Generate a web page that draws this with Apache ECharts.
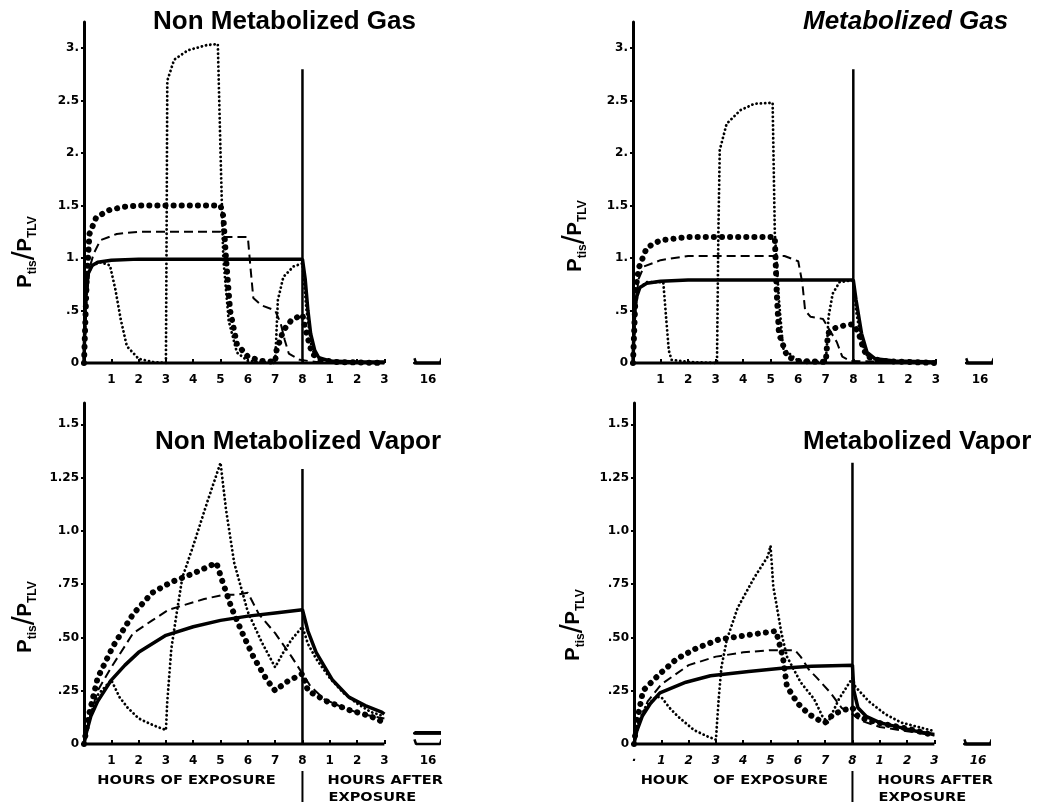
<!DOCTYPE html>
<html><head><meta charset="utf-8">
<script src="https://cdn.jsdelivr.net/npm/echarts@6/dist/echarts.min.js"></script>
<style>html,body{margin:0;padding:0;background:#fff}#c{width:1041px;height:806px}</style>
</head><body><div id="c"></div>
<script>
// ---------- DATA ----------
const panelTitles = ['Non Metabolized Gas', 'Metabolized Gas', 'Non Metabolized Vapor', 'Metabolized Vapor'];
const xTickPos = [1, 2, 3, 4, 5, 6, 7, 8, 9, 10, 11, 12.6];
const xTickLabels = ['1', '2', '3', '4', '5', '6', '7', '8', '1', '2', '3', '16'];
const mVapXTickPos = [0, 1, 2, 3, 4, 5, 6, 7, 8, 9, 10, 11, 12.6];
const mVapXTickLabels = ['·', '1', '2', '3', '4', '5', '6', '7', '8', '1', '2', '3', '16'];
const gasYTicks = [0, 0.5, 1, 1.5, 2, 2.5, 3];
const gasYLabels = ['0', '.5', '1.', '1.5', '2.', '2.5', '3.'];
const vapYTicks = [0, 0.25, 0.5, 0.75, 1, 1.25, 1.5];
const vapYLabels = ['0', '.25', '.50', '.75', '1.0', '1.25', '1.5'];
const yMax = [3.25, 3.25, 1.6, 1.6];
const dividerTop = [2.8, 2.8, 1.29, 1.32];
const exposureEnd = 8;
const afterEnd = 11;
const at16Span = [12.1, 13.1];

// Non Metabolized Gas
const nmGasConst = [[0,0],[0.05,0.6],[0.15,0.85],[0.3,0.93],[0.5,0.96],[1,0.98],[2,0.99],[8,0.99],[8.1,0.8],[8.2,0.5],[8.3,0.28],[8.45,0.12],[8.6,0.05],[9,0.02],[10,0.01],[11,0.01]];
const nmGasDashed = [[0,0],[0.1,0.6],[0.2,0.9],[0.35,1.04],[0.6,1.17],[1.2,1.23],[2,1.25],[5,1.25],[5.15,1.2],[6.0,1.2],[6.1,0.9],[6.2,0.62],[6.5,0.55],[7.0,0.5],[7.2,0.38],[7.35,0.22],[7.5,0.09],[7.9,0.03],[8.5,0.01],[11,0]];
const nmGasBigDots = [[0,0],[0.1,0.8],[0.2,1.23],[0.45,1.39],[0.95,1.46],[1.5,1.49],[2,1.5],[5,1.5],[5.1,1.4],[5.2,1.0],[5.35,0.5],[5.6,0.18],[6.0,0.06],[6.5,0.02],[7,0.01],[7.05,0.12],[7.3,0.31],[7.6,0.41],[8.0,0.46],[8.15,0.28],[8.35,0.09],[8.65,0.03],[9.2,0.01],[11,0]];
const nmGasSmallDots = [[0,0],[0.05,0.5],[0.15,0.85],[0.3,0.93],[0.6,0.96],[0.95,0.93],[1.15,0.7],[1.35,0.41],[1.57,0.16],[2,0.04],[2.5,0.01],[3.0,0],[3.03,1.5],[3.05,2.69],[3.3,2.89],[3.8,2.98],[4.5,3.03],[4.9,3.04],[5.0,2.0],[5.1,1.0],[5.3,0.4],[5.6,0.1],[6,0.02],[7,0],[7.1,0.6],[7.3,0.82],[7.67,0.92],[8.0,0.95],[8.15,0.5],[8.35,0.12],[8.7,0.03],[9.5,0.01],[11,0]];
const nmGas16 = [0, 0, 0, 0];

// Metabolized Gas
const mGasConst = [[0,0],[0.05,0.45],[0.12,0.62],[0.25,0.72],[0.5,0.76],[1,0.78],[2,0.79],[8,0.79],[8.1,0.6],[8.3,0.28],[8.5,0.1],[8.8,0.04],[9.5,0.02],[11,0.01]];
const mGasDashed = [[0,0],[0.1,0.55],[0.2,0.8],[0.4,0.92],[1,0.98],[2,1.02],[5.5,1.02],[6.0,0.97],[6.15,0.76],[6.25,0.5],[6.45,0.44],[6.9,0.42],[7.1,0.33],[7.4,0.2],[7.6,0.06],[7.9,0.02],[11,0]];
const mGasBigDots = [[0,0],[0.1,0.7],[0.2,0.9],[0.5,1.1],[1,1.17],[2,1.2],[5.15,1.2],[5.22,0.66],[5.3,0.28],[5.6,0.06],[6.0,0.02],[7.0,0.01],[7.08,0.28],[7.3,0.33],[7.7,0.36],[8.0,0.37],[8.2,0.28],[8.35,0.15],[8.5,0.06],[9,0.02],[11,0]];
const mGasSmallDots = [[0,0],[0.05,0.4],[0.15,0.7],[0.5,0.77],[1.1,0.77],[1.2,0.44],[1.3,0.12],[1.4,0.03],[2,0.01],[3.05,0],[3.1,1.24],[3.15,2.03],[3.4,2.28],[3.9,2.41],[4.4,2.47],[5.07,2.48],[5.15,1.24],[5.3,0.6],[5.45,0.14],[6,0.02],[7.0,0.01],[7.05,0.2],[7.1,0.44],[7.25,0.66],[7.5,0.77],[8.0,0.79],[8.1,0.5],[8.3,0.2],[8.5,0.07],[9,0.02],[11,0]];
const mGas16 = [0, 0, 0, 0];

// Non Metabolized Vapor
const nmVapConst = [[0,0],[0.1,0.06],[0.25,0.13],[0.5,0.2],[1,0.3],[1.5,0.37],[2,0.43],[3,0.51],[4,0.55],[5,0.58],[6,0.6],[7,0.615],[8,0.63],[8.2,0.53],[8.5,0.43],[9.1,0.3],[9.7,0.22],[10.3,0.18],[10.9,0.15],[11,0.14]];
const nmVapDashed = [[0,0],[0.2,0.12],[0.5,0.25],[1,0.36],[1.8,0.52],[2.5,0.58],[3.1,0.63],[4.4,0.68],[5.1,0.7],[5.6,0.7],[6.0,0.71],[6.4,0.61],[7.0,0.52],[7.6,0.41],[8.0,0.33],[8.3,0.27],[8.8,0.21],[9.5,0.17],[10.2,0.14],[11,0.12]];
const nmVapBigDots = [[0,0],[0.15,0.12],[0.5,0.31],[1.07,0.46],[1.8,0.61],[2.5,0.71],[3.2,0.76],[4.0,0.8],[4.85,0.85],[5.05,0.77],[5.4,0.64],[5.8,0.52],[6.2,0.41],[6.7,0.3],[7.0,0.25],[7.4,0.29],[8.0,0.33],[8.2,0.25],[8.9,0.2],[9.7,0.16],[10.5,0.13],[11,0.1]];
const nmVapSmallDots = [[0,0],[0.15,0.1],[0.5,0.23],[1.0,0.3],[1.3,0.22],[1.6,0.17],[2,0.12],[2.5,0.09],[3.0,0.065],[3.05,0.2],[3.2,0.45],[3.4,0.62],[3.6,0.78],[4,0.93],[4.5,1.13],[5,1.32],[5.2,1.1],[5.5,0.85],[6,0.62],[6.5,0.48],[7,0.36],[7.3,0.43],[7.6,0.49],[8,0.55],[8.2,0.47],[8.5,0.4],[9,0.31],[9.5,0.24],[10,0.19],[10.5,0.15],[11,0.13]];
const nmVap16 = [0.055, 0.05, 0.05, 0.05];

// Metabolized Vapor
const mVapConst = [[0,0],[0.1,0.06],[0.3,0.13],[0.6,0.19],[0.95,0.24],[1.9,0.29],[2.8,0.32],[4.2,0.34],[5.4,0.355],[6.5,0.365],[8,0.37],[8.05,0.25],[8.2,0.17],[8.5,0.13],[9,0.1],[9.5,0.085],[10,0.07],[10.5,0.055],[11,0.045]];
const mVapDashed = [[0,0],[0.2,0.1],[0.5,0.2],[1,0.28],[2,0.37],[3,0.41],[4,0.43],[5,0.44],[5.7,0.44],[5.9,0.44],[6.1,0.41],[6.4,0.35],[6.7,0.31],[7.2,0.24],[7.6,0.17],[8.0,0.14],[8.3,0.11],[9,0.08],[10,0.06],[11,0.04]];
const mVapBigDots = [[0,0],[0.1,0.1],[0.33,0.25],[0.95,0.33],[1.57,0.4],[2.3,0.45],[3.1,0.49],[4.1,0.51],[5.2,0.53],[5.45,0.41],[5.6,0.27],[6.0,0.19],[6.4,0.14],[6.8,0.11],[7.0,0.1],[7.3,0.14],[7.7,0.16],[8.0,0.17],[8.2,0.13],[8.6,0.11],[9.3,0.09],[10.1,0.07],[11,0.04]];
const mVapSmallDots = [[0,0],[0.1,0.08],[0.4,0.17],[0.8,0.22],[1.0,0.22],[1.3,0.17],[1.6,0.13],[2.2,0.065],[2.7,0.035],[3.0,0.02],[3.1,0.21],[3.2,0.36],[3.4,0.49],[3.8,0.64],[4.4,0.78],[4.9,0.88],[5.0,0.93],[5.1,0.74],[5.4,0.52],[5.6,0.41],[6.1,0.29],[6.6,0.21],[6.9,0.13],[7.1,0.1],[7.5,0.21],[7.8,0.27],[8.0,0.31],[8.1,0.27],[8.6,0.2],[9.2,0.14],[9.8,0.1],[10.4,0.08],[11,0.06]];
const mVap16 = [0, 0, 0, 0];

// ---------- CHART ----------
const panels = [
  {curves: [nmGasConst, nmGasDashed, nmGasBigDots, nmGasSmallDots], at16: nmGas16, xPos: xTickPos, xLab: xTickLabels},
  {curves: [mGasConst, mGasDashed, mGasBigDots, mGasSmallDots], at16: mGas16, xPos: xTickPos, xLab: xTickLabels},
  {curves: [nmVapConst, nmVapDashed, nmVapBigDots, nmVapSmallDots], at16: nmVap16, xPos: xTickPos, xLab: xTickLabels},
  {curves: [mVapConst, mVapDashed, mVapBigDots, mVapSmallDots], at16: mVap16, xPos: mVapXTickPos, xLab: mVapXTickLabels}
];
const grids = [
  {left: 84, top: 22, width: 355, height: 341},
  {left: 633, top: 22, width: 358, height: 341},
  {left: 84, top: 403, width: 355, height: 341},
  {left: 634, top: 403, width: 355, height: 341}
];
const curveStyles = [
  {type: 'solid', width: 3.5, color: '#000'},
  {type: [9, 5], width: 2, color: '#000'},
  {type: [0.1, 8], width: 6, cap: 'round', color: '#000'},
  {type: [0.1, 4.2], width: 2.8, cap: 'round', color: '#000'}
];
const bracketLift = [0.045, 0.045, 0.022, 0.022];
const FONT = '"Liberation Sans", Arial, sans-serif';
const TICKFONT = '"DejaVu Sans", sans-serif';

const xAxes = [], yAxes = [], series = [];
panels.forEach((p, i) => {
  const isGas = i < 2;
  const yt = isGas ? gasYTicks : vapYTicks;
  const yl = isGas ? gasYLabels : vapYLabels;
  xAxes.push({
    type: 'value', gridIndex: i, min: 0, max: 13,
    axisLine: {show: false}, splitLine: {show: false},
    axisTick: {show: true, inside: true, length: 4, customValues: [1,2,3,4,5,6,7,8,9,10,11], lineStyle: {color: '#000', width: 2}},
    axisLabel: {
      customValues: p.xPos, margin: 11, color: '#000', fontFamily: TICKFONT, fontWeight: 'bold', fontSize: 12,
      fontStyle: i === 3 ? 'italic' : 'normal',
      formatter: v => { const k = p.xPos.findIndex(t => Math.abs(t - v) < 1e-6); return k >= 0 ? p.xLab[k] : ''; }
    }
  });
  yAxes.push({
    type: 'value', gridIndex: i, min: 0, max: yMax[i],
    axisLine: {show: true, lineStyle: {color: '#000', width: 3}},
    splitLine: {show: false},
    axisTick: {show: true, length: 3, customValues: yt, lineStyle: {color: '#000', width: 2}},
    axisLabel: {
      customValues: yt, margin: 5, color: '#000', fontFamily: TICKFONT, fontWeight: 'bold', fontSize: 12,
      formatter: v => { const k = yt.findIndex(t => Math.abs(t - v) < 1e-6); return k >= 0 ? yl[k] : ''; }
    }
  });
  const base = {type: 'line', xAxisIndex: i, yAxisIndex: i, symbol: 'none', silent: true, animation: false, clip: false};
  series.push(Object.assign({}, base, {data: [[0, 0], [afterEnd, 0]], lineStyle: {color: '#000', width: 3}}));
  series.push(Object.assign({}, base, {data: [[at16Span[0], bracketLift[i]], [at16Span[0] + 0.06, 0], [at16Span[1] - 0.06, 0], [at16Span[1], bracketLift[i]]], lineStyle: {color: '#000', width: 2.5}}));
  series.push(Object.assign({}, base, {data: [[exposureEnd, 0], [exposureEnd, dividerTop[i]]], lineStyle: {color: '#000', width: 2.5}}));
  p.curves.forEach((c, k) => {
    series.push(Object.assign({}, base, {data: c, lineStyle: curveStyles[k]}));
    series.push(Object.assign({}, base, {data: [[at16Span[0], p.at16[k]], [at16Span[1], p.at16[k]]], lineStyle: Object.assign({}, curveStyles[k], {type: 'solid', width: 2.5})}));
  });
});

const chart = echarts.init(document.getElementById('c'), null, {renderer: 'canvas'});
chart.setOption({
  backgroundColor: '#fff',
  animation: false,
  grid: grids,
  xAxis: xAxes,
  yAxis: yAxes,
  series: series
});

// ---------- TEXT / DECORATIONS ----------
const titlePos = [[153, 22], [803, 22], [155, 442], [803, 442]];
const yNamePos = [[25, 252], [575, 236], [25, 617], [573, 625]];
const g = [];
panelTitles.forEach((t, i) => {
  g.push({type: 'text', x: titlePos[i][0], y: titlePos[i][1], silent: true,
    style: {text: t, font: (i === 1 ? 'italic ' : '') + 'bold 26px ' + FONT, fill: '#000', align: 'left', verticalAlign: 'middle', textAlign: 'left', textVerticalAlign: 'middle'}});
});
yNamePos.forEach(pos => {
  g.push({type: 'text', x: pos[0], y: pos[1], rotation: Math.PI / 2, silent: true,
    style: {text: '{p|P}{s|tis}{sl|/}{p|P}{s|TLV}', align: 'center', verticalAlign: 'middle', textAlign: 'center', textVerticalAlign: 'middle',
      rich: {
        p: {fontFamily: FONT, fontWeight: 'bold', fontSize: 20, lineHeight: 28, verticalAlign: 'middle', fill: '#000'},
        s: {fontFamily: FONT, fontWeight: 'bold', fontSize: 12, lineHeight: 14, verticalAlign: 'bottom', fill: '#000'},
        sl: {fontFamily: FONT, fontSize: 32, lineHeight: 28, verticalAlign: 'middle', fill: '#000'}
      }}});
});
[2, 3].forEach(i => {
  const p8 = chart.convertToPixel({gridIndex: i}, [exposureEnd, 0]);
  g.push({type: 'line', silent: true, shape: {x1: p8[0], y1: p8[1] + 27, x2: p8[0], y2: p8[1] + 58}, style: {stroke: '#000', lineWidth: 2}});
  const capFont = 'bold 13px "DejaVu Sans", sans-serif';
  const ts = {fill: '#000', font: capFont, verticalAlign: 'middle', textVerticalAlign: 'middle'};
  g.push({type: 'text', x: p8[0] + 25, y: p8[1] + 37, scaleX: 1.12, silent: true, style: Object.assign({text: 'HOURS AFTER', align: 'left', textAlign: 'left'}, ts)});
  g.push({type: 'text', x: p8[0] + 26, y: p8[1] + 54, scaleX: 1.12, silent: true, style: Object.assign({text: 'EXPOSURE', align: 'left', textAlign: 'left'}, ts)});
  if (i === 2) {
    g.push({type: 'text', x: p8[0] - 116, y: p8[1] + 37, scaleX: 1.12, silent: true, style: Object.assign({text: 'HOURS OF EXPOSURE', align: 'center', textAlign: 'center'}, ts)});
  } else {
    g.push({type: 'text', x: p8[0] - 188, y: p8[1] + 37, scaleX: 1.12, silent: true, style: Object.assign({text: 'HOUK', align: 'center', textAlign: 'center'}, ts)});
    g.push({type: 'text', x: p8[0] - 82, y: p8[1] + 37, scaleX: 1.12, silent: true, style: Object.assign({text: 'OF EXPOSURE', align: 'center', textAlign: 'center'}, ts)});
  }
});
chart.setOption({graphic: g});
</script></body></html>
